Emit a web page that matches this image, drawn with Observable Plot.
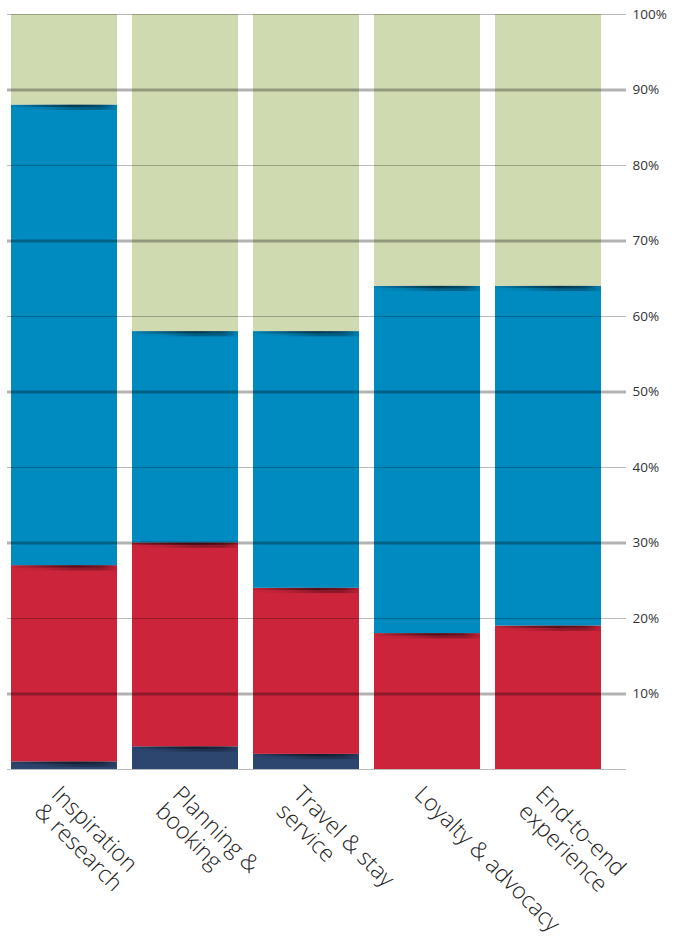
<!DOCTYPE html>
<html>
<head>
<meta charset="utf-8">
<script src="https://cdn.jsdelivr.net/npm/d3@7"></script>
<script src="https://cdn.jsdelivr.net/npm/@observablehq/plot@0.6"></script>
<style>
  html, body { margin: 0; padding: 0; background: #fff; }
  #chart svg { display: block; }
</style>
</head>
<body>
<div id="chart"></div>
<script>
// Categories (journey stages) and their display labels
const categories = ["Inspiration & research", "Planning & booking", "Travel & stay service", "Loyalty & advocacy", "End-to-end experience"];
const categoryLabels = ["Inspiration\n& research", "Planning &\nbooking", "Travel & stay\nservice", "Loyalty & advocacy", "End-to-end\nexperience"];

// Stacked series (bottom to top), values in percent
const seriesNames = ["Segment 1", "Segment 2", "Segment 3", "Segment 4"];
const segment1Values = [1, 3, 2, 0, 0];
const segment2Values = [26, 27, 22, 18, 19];
const segment3Values = [61, 28, 34, 46, 45];
const segment4Values = [12, 42, 42, 36, 36];
const seriesColors = ["#2c4670", "#cc243b", "#008bc0", "#d0dab1"];

// Y tick values
const yTicks = [10, 20, 30, 40, 50, 60, 70, 80, 90, 100];
const gridValues = [0, 10, 20, 30, 40, 50, 60, 70, 80, 90, 100];

const seriesValues = [segment1Values, segment2Values, segment3Values, segment4Values];
const rows = [];
categories.forEach((c, i) => {
  seriesNames.forEach((s, j) => rows.push({category: c, series: s, value: seriesValues[j][i]}));
});

// Shadow strips at the top of each lower segment (derived from the data)
const shadows = [];
categories.forEach((c, i) => {
  let cum = 0;
  for (let j = 0; j < 3; j++) {
    const v = seriesValues[j][i];
    cum += v;
    if (v > 0) shadows.push({category: c, top: cum, size: Math.min(v, 0.7)});
  }
});

const labelOf = new Map(categories.map((c, i) => [c, categoryLabels[i]]));

const plot = Plot.plot({
  width: 680,
  height: 942,
  marginTop: 14,
  marginBottom: 173,
  marginLeft: 7,
  marginRight: 54,
  style: {fontFamily: "'Open Sans', 'DejaVu Sans', sans-serif", background: "#fff"},
  x: {domain: categories, range: [9, 603], paddingInner: 0.12, paddingOuter: 0, axis: null},
  y: {domain: [0, 100], axis: null},
  color: {type: "ordinal", domain: seriesNames, range: seriesColors},
  marks: [
    Plot.barY(rows, {x: "category", y: "value", fill: "series", order: seriesNames}),
    Plot.barY(shadows, {x: "category", y1: "top", y2: d => d.top - d.size, fill: "url(#shadeGrad)"}),
    Plot.barY(shadows, {x: "category", y1: "top", y2: d => d.top - d.size * 0.45, fill: "url(#shadeGrad2)"}),
    Plot.ruleY(gridValues.filter(v => v % 20 === 0), {y: d => d, stroke: "#000", strokeOpacity: 0.27, strokeWidth: 1}),
    Plot.ruleY(gridValues.filter(v => v % 20 === 10), {y: d => d, stroke: "#000", strokeOpacity: 0.3, strokeWidth: 3}),
    Plot.axisY({
      anchor: "right",
      ticks: yTicks,
      tickFormat: d => d + "%",
      tickSize: 0,
      tickPadding: 6,
      fontSize: 13.5,
      color: "#333",
      label: null
    }),
    Plot.text(categories, {
      x: d => d,
      y: () => 0,
      text: d => labelOf.get(d),
      rotate: 45,
      textAnchor: "start",
      lineAnchor: "top",
      dx: -2,
      dy: 14,
      fontSize: 23,
      fontWeight: 300,
      lineHeight: 1.05,
      fill: "#222"
    })
  ]
});

// gradient definitions for the segment shadows
const ns = "http://www.w3.org/2000/svg";
const defs = document.createElementNS(ns, "defs");
function grad(id, stops) {
  const g = document.createElementNS(ns, "linearGradient");
  g.setAttribute("id", id);
  g.setAttribute("x1", "0"); g.setAttribute("x2", "1");
  g.setAttribute("y1", "0"); g.setAttribute("y2", "0");
  stops.forEach(([o, a]) => {
    const s = document.createElementNS(ns, "stop");
    s.setAttribute("offset", o);
    s.setAttribute("stop-color", "#000");
    s.setAttribute("stop-opacity", a);
    g.appendChild(s);
  });
  defs.appendChild(g);
}
grad("shadeGrad", [[0, 0], [0.3, 0.08], [0.6, 0.3], [0.85, 0.3], [1, 0.08]]);
grad("shadeGrad2", [[0, 0.05], [0.3, 0.3], [0.6, 0.4], [0.85, 0.2], [1, 0]]);
plot.insertBefore(defs, plot.firstChild);

document.getElementById("chart").appendChild(plot);
</script>
</body>
</html>
